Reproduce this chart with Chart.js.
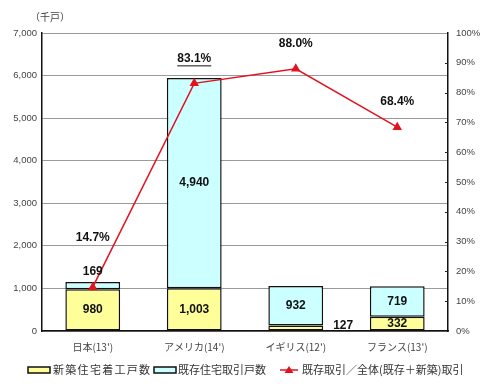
<!DOCTYPE html>
<html>
<head>
<meta charset="utf-8">
<script src="https://cdn.jsdelivr.net/npm/chart.js@4/dist/chart.umd.min.js"></script>
<style>
  html, body { margin: 0; padding: 0; background: #fff; }
  #wrap { width: 490px; height: 389px; }
</style>
</head>
<body>
<div id="wrap"><canvas id="housingChart" width="490" height="389"></canvas></div>
<script>
// data
const categories = ["日本(13')", "アメリカ(14')", "イギリス(12')", "フランス(13')"];
const newStarts = [980, 1003, 127, 332];        // 新築住宅着工戸数 (千戸)
const existingSales = [169, 4940, 932, 719];    // 既存住宅取引戸数 (千戸)
const existingShare = [14.7, 83.1, 88.0, 68.4]; // 既存取引／全体 (%)
const legendLabels = ["新築住宅着工戸数", "既存住宅取引戸数", "既存取引／全体(既存＋新築)取引"];

const RED = "#e2131f";
const YELLOW = "#ffff99";
const CYAN = "#ccffff";
const numFont = "bold 12px 'Liberation Sans', Arial, sans-serif";

// value labels, axis unit, right-side inner ticks and legend
const labelPlugin = {
  id: "labels",
  afterDatasetsDraw(chart) {
    const ctx = chart.ctx;
    ctx.save();
    ctx.fillStyle = "#111";
    ctx.font = numFont;
    ctx.textAlign = "center";
    ctx.textBaseline = "middle";

    [1, 2].forEach((di) => {
      const meta = chart.getDatasetMeta(di);
      const values = chart.data.datasets[di].data;
      meta.data.forEach((bar, i) => {
        const top = Math.min(bar.y, bar.base);
        const bottom = Math.max(bar.y, bar.base);
        const h = bottom - top;
        const text = values[i].toLocaleString("en-US");
        if (h < 10) {
          if (di === 2) {
            ctx.fillText(text, bar.x, top - 10);
          } else {
            ctx.textAlign = "left";
            ctx.fillText(text, bar.x + bar.width / 2 + 10, bottom - 5);
            ctx.textAlign = "center";
          }
        } else {
          ctx.fillText(text, bar.x, (top + bottom) / 2);
        }
      });
    });

    const lineMeta = chart.getDatasetMeta(0);
    lineMeta.data.forEach((pt, i) => {
      const text = existingShare[i].toFixed(1) + "%";
      const y = pt.y - (i === 0 ? 50 : 25);
      ctx.fillText(text, pt.x, y);
      if (i === 1) {
        const w = ctx.measureText(text).width;
        ctx.strokeStyle = "#111";
        ctx.lineWidth = 1;
        ctx.beginPath();
        ctx.moveTo(pt.x - w / 2, y + 7.5);
        ctx.lineTo(pt.x + w / 2, y + 7.5);
        ctx.stroke();
      }
    });
    ctx.restore();
  },
  afterDraw(chart) {
    const ctx = chart.ctx;
    const area = chart.chartArea;
    ctx.save();

    // unit
    ctx.fillStyle = "#444";
    ctx.font = "10px 'Noto Sans CJK JP', sans-serif";
    ctx.textAlign = "left";
    ctx.textBaseline = "middle";
    ctx.fillText("（千戸）", 30, 17);

    // small inner ticks on right axis
    const y2 = chart.scales.y2;
    ctx.strokeStyle = "#222";
    ctx.lineWidth = 1;
    for (let v = 10; v < 100; v += 10) {
      const y = Math.round(y2.getPixelForValue(v)) + 0.5;
      ctx.beginPath();
      ctx.moveTo(area.right - 3, y);
      ctx.lineTo(area.right, y);
      ctx.stroke();
    }

    // legend
    const ly = 370;
    ctx.font = "11px 'Noto Sans CJK JP', sans-serif";
    const boxes = [
      { x: 28, fill: YELLOW, tx: 53, spacing: "1.3px" },
      { x: 154, fill: CYAN, tx: 178, spacing: "0px" },
    ];
    boxes.forEach((b, i) => {
      ctx.fillStyle = b.fill;
      ctx.fillRect(b.x, ly - 3, 22, 6);
      ctx.strokeStyle = "#111";
      ctx.lineWidth = 1.5;
      ctx.strokeRect(b.x, ly - 3, 22, 6);
      ctx.fillStyle = "#333";
      ctx.letterSpacing = b.spacing;
      ctx.fillText(legendLabels[i], b.tx, ly);
    });
    ctx.letterSpacing = "0px";
    ctx.strokeStyle = RED;
    ctx.lineWidth = 1.5;
    ctx.beginPath();
    ctx.moveTo(280, ly);
    ctx.lineTo(298, ly);
    ctx.stroke();
    ctx.fillStyle = RED;
    ctx.beginPath();
    ctx.moveTo(289, ly - 4);
    ctx.lineTo(293.5, ly + 3);
    ctx.lineTo(284.5, ly + 3);
    ctx.closePath();
    ctx.fill();
    ctx.fillStyle = "#333";
    ctx.fillText(legendLabels[2], 302, ly);

    ctx.restore();
  },
};

const ctx = document.getElementById("housingChart").getContext("2d");
const housingChart = new Chart(ctx, {
  data: {
    labels: categories,
    datasets: [
      {
        type: "line",
        label: legendLabels[2],
        data: existingShare,
        yAxisID: "y2",
        borderColor: RED,
        backgroundColor: RED,
        borderWidth: 1.5,
        pointStyle: "triangle",
        pointRadius: 5.5,
        pointBorderWidth: 0,
        tension: 0,
        order: 0,
      },
      {
        type: "bar",
        label: legendLabels[0],
        data: newStarts,
        yAxisID: "y",
        stack: "houses",
        backgroundColor: YELLOW,
        borderColor: "#111",
        borderWidth: 1.5,
        borderSkipped: false,
        barPercentage: 0.54,
        categoryPercentage: 1,
        order: 1,
      },
      {
        type: "bar",
        label: legendLabels[1],
        data: existingSales,
        yAxisID: "y",
        stack: "houses",
        backgroundColor: CYAN,
        borderColor: "#111",
        borderWidth: 1.5,
        borderSkipped: false,
        barPercentage: 0.54,
        categoryPercentage: 1,
        order: 2,
      },
    ],
  },
  options: {
    responsive: false,
    animation: false,
    layout: { padding: { top: 33, bottom: 36, left: 0, right: 0 } },
    plugins: {
      legend: { display: false },
      tooltip: { enabled: false },
    },
    scales: {
      x: {
        stacked: true,
        grid: { display: false },
        border: { display: true, color: "#111", width: 1.5 },
        ticks: {
          color: "#444",
          font: { family: "'Noto Sans CJK JP', sans-serif", size: 10 },
          padding: 2,
        },
        afterFit(scale) { scale.height = 22; },
      },
      y: {
        stacked: true,
        position: "left",
        min: 0,
        max: 7000,
        ticks: {
          stepSize: 1000,
          color: "#444",
          padding: 5,
          font: { family: "'Liberation Sans', Arial, sans-serif", size: 9.5 },
          callback: (v) => v.toLocaleString("en-US"),
        },
        grid: { color: "#9a9a9a", lineWidth: 1, drawTicks: false },
        border: { display: true, color: "#111", width: 1.5 },
        afterFit(scale) { scale.width = 42; },
      },
      y2: {
        position: "right",
        min: 0,
        max: 100,
        ticks: {
          stepSize: 10,
          color: "#444",
          padding: 8,
          font: { family: "'Liberation Sans', Arial, sans-serif", size: 9.5 },
          callback: (v) => v + "%",
        },
        grid: { drawOnChartArea: false, drawTicks: false },
        border: { display: true, color: "#111", width: 1.5 },
        afterFit(scale) { scale.width = 42; },
      },
    },
  },
  plugins: [labelPlugin],
});
</script>
</body>
</html>
